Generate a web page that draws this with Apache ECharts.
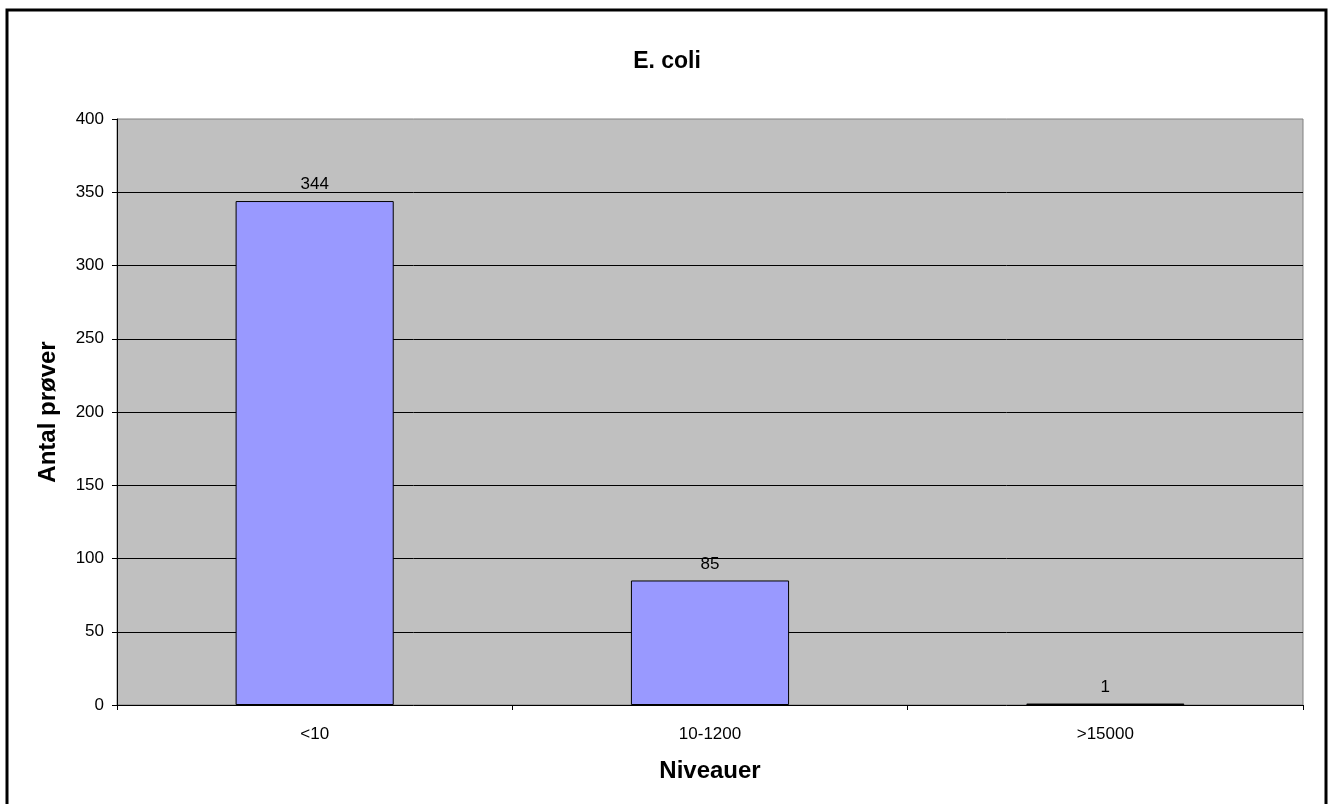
<!DOCTYPE html>
<html>
<head>
<meta charset="utf-8">
<script src="https://cdn.jsdelivr.net/npm/echarts@6/dist/echarts.min.js"></script>
<style>
html,body{margin:0;padding:0;background:#fff;}
#chart{width:1334px;height:804px;}
</style>
</head>
<body>
<div id="chart"></div>
<script>
const categories = ['<10', '10-1200', '>15000'];
const counts = [344, 85, 1];
const yTicks = { min: 0, max: 400, interval: 50 };
const titleText = 'E. coli';
const xName = 'Niveauer';
const yName = 'Antal prøver';

const FONT = '"Liberation Sans", Arial, sans-serif';
const chart = echarts.init(document.getElementById('chart'), null, { renderer: 'canvas' });
chart.setOption({
  animation: false,
  backgroundColor: '#ffffff',
  textStyle: { fontFamily: FONT },
  title: {
    text: titleText,
    left: 'center',
    top: 45,
    textStyle: { fontFamily: FONT, fontSize: 23, fontWeight: 'bold', color: '#000' }
  },
  graphic: [{
    type: 'rect',
    shape: { x: 7, y: 10, width: 1319, height: 800 },
    style: { fill: 'none', stroke: '#000', lineWidth: 3 },
    silent: true
  }],
  grid: {
    left: 117, right: 31, top: 119, bottom: 99,
    show: true, backgroundColor: '#C0C0C0', borderColor: '#808080', borderWidth: 1
  },
  xAxis: {
    type: 'category',
    data: categories,
    name: xName,
    nameLocation: 'middle',
    nameGap: 54,
    nameTextStyle: { fontFamily: FONT, fontSize: 24, fontWeight: 'bold', color: '#000' },
    axisLine: { lineStyle: { color: '#000', width: 1 } },
    axisTick: { show: true, length: 5, lineStyle: { color: '#000' } },
    axisLabel: { fontFamily: FONT, fontSize: 17, color: '#000', margin: 21 },
    splitLine: { show: false }
  },
  yAxis: {
    type: 'value',
    min: yTicks.min, max: yTicks.max, interval: yTicks.interval,
    name: yName,
    nameLocation: 'middle',
    nameGap: 57,
    nameTextStyle: { fontFamily: FONT, fontSize: 24, fontWeight: 'bold', color: '#000' },
    axisLine: { show: true, lineStyle: { color: '#000', width: 1 } },
    axisTick: { show: true, length: 5, lineStyle: { color: '#000' } },
    axisLabel: { fontFamily: FONT, fontSize: 17, color: '#000', margin: 13 },
    splitLine: { show: true, showMinLine: false, showMaxLine: false, lineStyle: { color: '#000', width: 1 } }
  },
  series: [{
    type: 'bar',
    data: counts,
    barCategoryGap: '60%',
    itemStyle: { color: '#9999FF', borderColor: '#000', borderWidth: 1 },
    label: { show: true, position: 'top', distance: 8, fontFamily: FONT, fontSize: 17, color: '#000' }
  }]
});
</script>
</body>
</html>
